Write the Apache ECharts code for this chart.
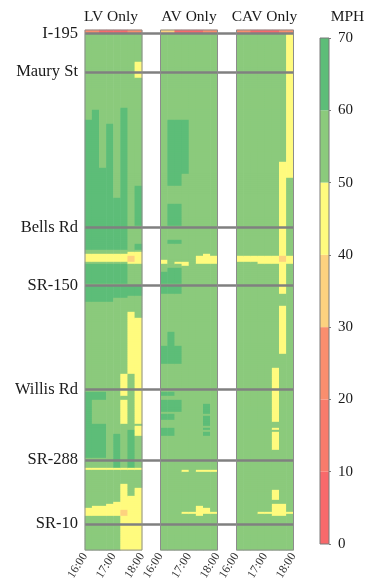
<!DOCTYPE html>
<html>
<head>
<meta charset="utf-8">
<script src="https://cdn.jsdelivr.net/npm/echarts@6/dist/echarts.min.js"></script>
<style>
  html, body { margin: 0; padding: 0; background: #ffffff; }
  #chart { width: 367px; height: 583px; }
</style>
</head>
<body>
<div id="chart"></div>
<script>
// Corridor speed heatmaps (mph) by 15-minute interval and road segment, north (top) to south.
const scenarios = ['LV Only', 'AV Only', 'CAV Only'];
const timeBins = ['16:00', '16:15', '16:30', '16:45', '17:00', '17:15', '17:30', '17:45'];
const timeTickMinutes = [0, 60, 120];
const timeTickLabels = ['16:00', '17:00', '18:00'];
const segmentCount = 260;
const locations = ['I-195', 'Maury St', 'Bells Rd', 'SR-150', 'Willis Rd', 'SR-288', 'SR-10'];
const locationSegments = [1.75, 21, 98.5, 127.5, 179.5, 214.5, 246.5];
const speedBreaks = [0, 10, 20, 30, 40, 50, 60, 70];
const bandColors = ['#f8696b', '#f87b6c', '#fa8e6e', '#fdd27f', '#fffb7e', '#8bca7c', '#5dbd78'];
const freeFlowSpeed = 55;

// Speed patches: [firstBin, lastBin, firstSegment, endSegment (exclusive), mph]
const lvPatches = [
  [0, 1, 0, 2, 25], [2, 5, 0, 2, 8], [6, 7, 0, 2, 25],
  [7, 7, 16, 24, 45],
  [0, 0, 45, 110, 65], [1, 1, 40, 110, 65], [2, 2, 69, 110, 65], [3, 3, 47, 110, 65],
  [4, 4, 84, 110, 65], [5, 5, 39, 110, 65], [7, 7, 78, 98, 65], [7, 7, 107, 110, 65],
  [0, 5, 112, 116, 45], [6, 7, 111, 117, 45], [6, 6, 113, 116, 35],
  [0, 5, 117, 127, 65], [0, 5, 128, 134, 65], [6, 7, 128, 133, 65], [0, 3, 134, 136, 65],
  [6, 6, 141, 172, 45], [7, 7, 144, 197, 45], [7, 7, 198, 203, 45],
  [5, 5, 172, 183, 45], [5, 5, 185, 197, 45],
  [0, 2, 181, 185, 65], [0, 0, 185, 214, 65], [0, 2, 197, 214, 65],
  [4, 4, 202, 219, 65], [6, 6, 200, 219, 65],
  [0, 7, 219, 220, 45],
  [5, 5, 227, 260, 45], [7, 7, 229, 260, 45], [6, 6, 233, 260, 45],
  [4, 4, 236, 243, 45], [3, 3, 237, 243, 45], [1, 2, 238, 243, 45], [0, 0, 239, 243, 45],
  [5, 5, 240, 243, 35]
];
const avPatches = [
  [0, 1, 0, 2, 35], [2, 5, 0, 2, 8], [6, 7, 0, 2, 25],
  [1, 3, 45, 72, 65], [1, 2, 72, 78, 65], [1, 2, 87, 98, 65], [1, 2, 105, 107, 65],
  [0, 0, 115, 117, 45], [2, 2, 116, 117, 45], [3, 3, 116, 118, 45],
  [5, 7, 113, 117, 45], [6, 6, 112, 113, 45],
  [1, 2, 119, 127, 65], [0, 0, 121, 127, 65], [0, 2, 128, 132, 65],
  [1, 1, 151, 167, 65], [0, 2, 158, 167, 65],
  [0, 1, 181, 183, 65], [0, 2, 185, 191, 65], [0, 1, 192, 195, 65], [0, 1, 199, 203, 65],
  [6, 6, 187, 192, 65], [6, 6, 193, 198, 65], [6, 6, 199, 200, 65], [6, 6, 201, 203, 65],
  [3, 3, 220, 221, 45], [5, 7, 220, 221, 45],
  [3, 4, 241, 242, 45], [5, 5, 238, 243, 45], [6, 6, 239, 242, 45], [7, 7, 241, 242, 45]
];
const cavPatches = [
  [0, 1, 0, 2, 25], [2, 5, 0, 2, 8], [6, 7, 0, 2, 25],
  [7, 7, 2, 66, 45], [6, 7, 66, 74, 45], [6, 6, 74, 132, 45],
  [0, 2, 113, 116, 45], [3, 7, 113, 117, 45], [6, 6, 113, 116, 35],
  [6, 6, 138, 162, 45], [5, 5, 169, 196, 45], [5, 5, 199, 200, 45], [5, 5, 201, 210, 45],
  [5, 5, 230, 235, 45], [5, 6, 237, 243, 45], [3, 7, 241, 242, 45]
];
const scenarioPatches = [lvPatches, avPatches, cavPatches];

function buildCells(patches) {
  const cols = timeBins.map(() => new Array(segmentCount).fill(freeFlowSpeed));
  patches.forEach(([c0, c1, r0, r1, v]) => {
    for (let c = c0; c <= c1; c++) for (let r = r0; r < r1; r++) cols[c][r] = v;
  });
  const out = [];
  cols.forEach((col, c) => col.forEach((v, r) => out.push([c, r, v])));
  return out;
}

const segmentNames = Array.from({ length: segmentCount }, (_, i) => String(i));
const serif = 'Liberation Serif, Times New Roman, serif';
const panelLeft = [85, 160.5, 236.5];
const panelWidth = 57;
const panelTop = 30;
const panelHeight = 521;
const titleCenters = [111, 189, 264.5];
const frameColor = '#8c8c8c';

const grids = [], xAxes = [], yAxes = [], series = [], titles = [];

scenarios.forEach((name, i) => {
  grids.push({ left: panelLeft[i], top: panelTop, width: panelWidth, height: panelHeight,
    show: true, borderColor: frameColor, borderWidth: 1, backgroundColor: 'transparent', z: 10 });
  xAxes.push({ type: 'category', gridIndex: i, data: timeBins, show: false });
  xAxes.push({ type: 'value', gridIndex: i, position: 'bottom', min: 0, max: 120, interval: 60,
    axisLine: { show: false }, axisTick: { show: false }, splitLine: { show: false },
    axisLabel: { rotate: 58, margin: 4, fontSize: 12, color: '#333', fontFamily: serif,
      formatter: v => timeTickLabels[timeTickMinutes.indexOf(v)] } });
  yAxes.push({ type: 'category', gridIndex: i, data: segmentNames, inverse: true, show: false });
  series.push({ type: 'heatmap', name, xAxisIndex: 2 * i, yAxisIndex: i,
    data: buildCells(scenarioPatches[i]), progressive: 0, itemStyle: { borderWidth: 0 } });
  titles.push({ text: name, left: titleCenters[i], top: 9, textAlign: 'center', padding: 0,
    textStyle: { fontFamily: serif, fontSize: 15.5, fontWeight: 'normal', color: '#1a1a1a' } });
});

// Location reference lines spanning all three panels
grids.push({ left: panelLeft[0], top: panelTop, width: panelLeft[2] + panelWidth - panelLeft[0], height: panelHeight });
xAxes.push({ type: 'value', gridIndex: 3, min: 0, max: 1, show: false });
yAxes.push({ type: 'value', gridIndex: 3, min: 0, max: segmentCount, inverse: true, show: false });
series.push({ type: 'scatter', xAxisIndex: 6, yAxisIndex: 3, data: [], z: 20, silent: true,
  markLine: { silent: true, symbol: 'none', animation: false,
    lineStyle: { color: '#808080', width: 2.5, type: 'solid' },
    label: { show: true, position: 'start', distance: 7, formatter: '{b}',
      fontFamily: serif, fontSize: 16.5, color: '#1a1a1a' },
    data: locations.map((n, k) => ({ name: n, yAxis: locationSegments[k] })) } });

// Colour scale bar
grids.push({ left: 320, top: 38, width: 9, height: 506, show: true, borderColor: '#7a7a7a',
  borderWidth: 1, backgroundColor: 'transparent', z: 10 });
xAxes.push({ type: 'category', gridIndex: 4, data: ['mph'], show: false });
yAxes.push({ type: 'value', gridIndex: 4, position: 'right', min: 0, max: 70, interval: 10,
  axisLine: { show: false }, splitLine: { show: false },
  axisTick: { show: true, length: 2, lineStyle: { color: '#7a7a7a' } },
  axisLabel: { margin: 9, fontSize: 15, fontFamily: serif, color: '#1a1a1a' } });
bandColors.forEach((c, k) => {
  series.push({ type: 'bar', xAxisIndex: 7, yAxisIndex: 4, stack: 'scale', barWidth: '100%',
    data: [speedBreaks[k + 1] - speedBreaks[k]], itemStyle: { color: c }, silent: true });
});
titles.push({ text: 'MPH', left: 347.5, top: 9, textAlign: 'center', padding: 0,
  textStyle: { fontFamily: serif, fontSize: 15.5, fontWeight: 'normal', color: '#1a1a1a' } });

const chart = echarts.init(document.getElementById('chart'), null, { renderer: 'canvas' });
chart.setOption({
  animation: false,
  backgroundColor: '#ffffff',
  title: titles,
  grid: grids,
  xAxis: xAxes,
  yAxis: yAxes,
  visualMap: {
    type: 'piecewise', show: false, seriesIndex: [0, 1, 2], dimension: 2,
    pieces: bandColors.map((c, k) => ({ gte: speedBreaks[k], lt: speedBreaks[k + 1], color: c }))
  },
  series
});
</script>
</body>
</html>
